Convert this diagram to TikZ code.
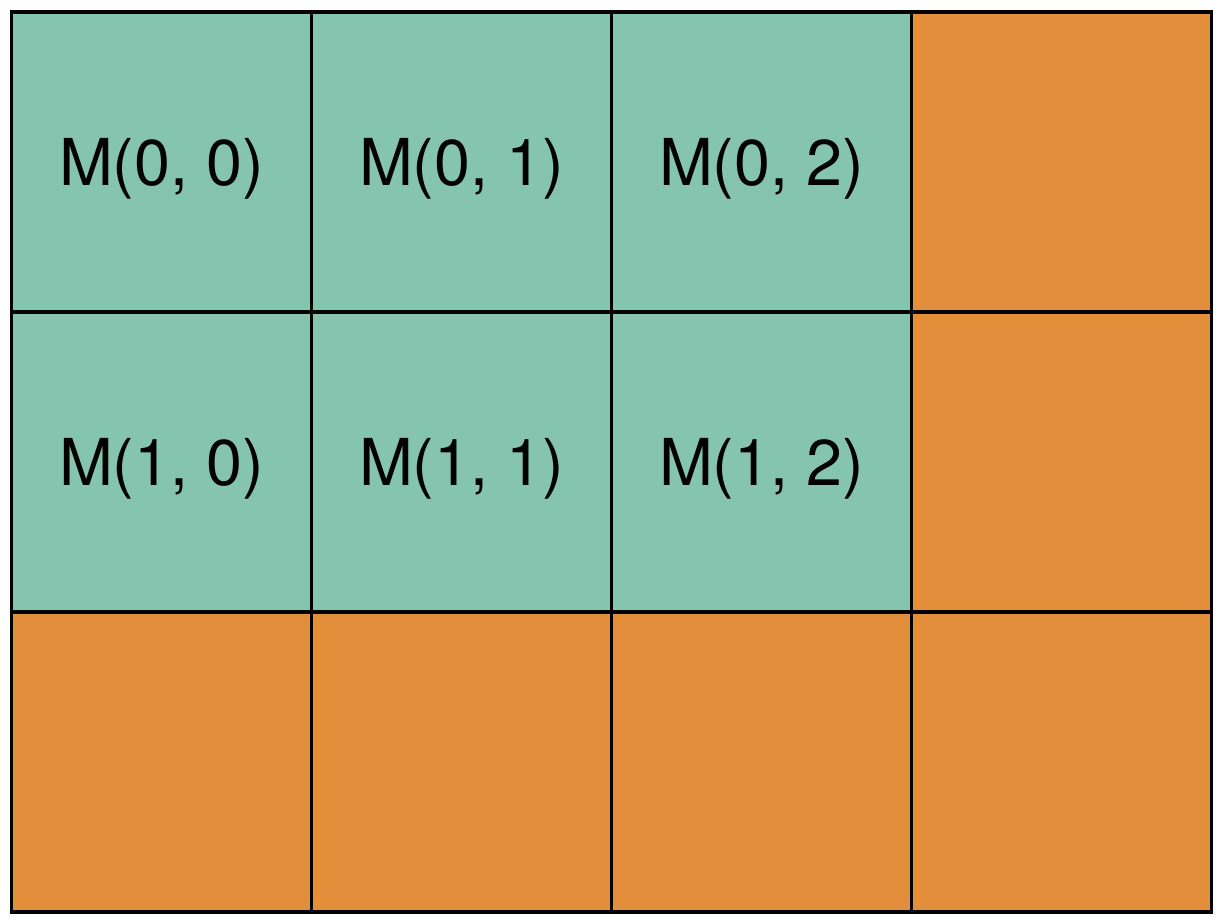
\documentclass[tikz,border=0pt]{standalone}
\usepackage{fontspec}
\setmainfont{TeX Gyre Heros}
\definecolor{inblock}{RGB}{133,197,176}
\definecolor{padding}{RGB}{226,142,59}
\tikzset{
  cell/.style={draw, line width=1pt, minimum size=3cm, inner sep=0pt, text depth=0pt, font=\fontsize{18.4}{20}\selectfont},
  used/.style={cell, fill=inblock},
  pad/.style={cell, fill=padding}
}
\begin{document}
\begin{tikzpicture}
\useasboundingbox (0,0) rectangle (12.23,9.24);
% first row
\node[used] (m00) at (1.615,7.62) {M(0, 0)};
\node[used] (m01) at (4.615,7.62) {M(0, 1)};
\node[used] (m02) at (7.615,7.62) {M(0, 2)};
\node[pad] (p03) at (10.615,7.62) {};
% second row
\node[used] (m10) at (1.615,4.62) {M(1, 0)};
\node[used] (m11) at (4.615,4.62) {M(1, 1)};
\node[used] (m12) at (7.615,4.62) {M(1, 2)};
\node[pad] (p13) at (10.615,4.62) {};
% third row, all padding
\node[pad] (p20) at (1.615,1.62) {};
\node[pad] (p21) at (4.615,1.62) {};
\node[pad] (p22) at (7.615,1.62) {};
\node[pad] (p23) at (10.615,1.62) {};
\end{tikzpicture}
\end{document}
